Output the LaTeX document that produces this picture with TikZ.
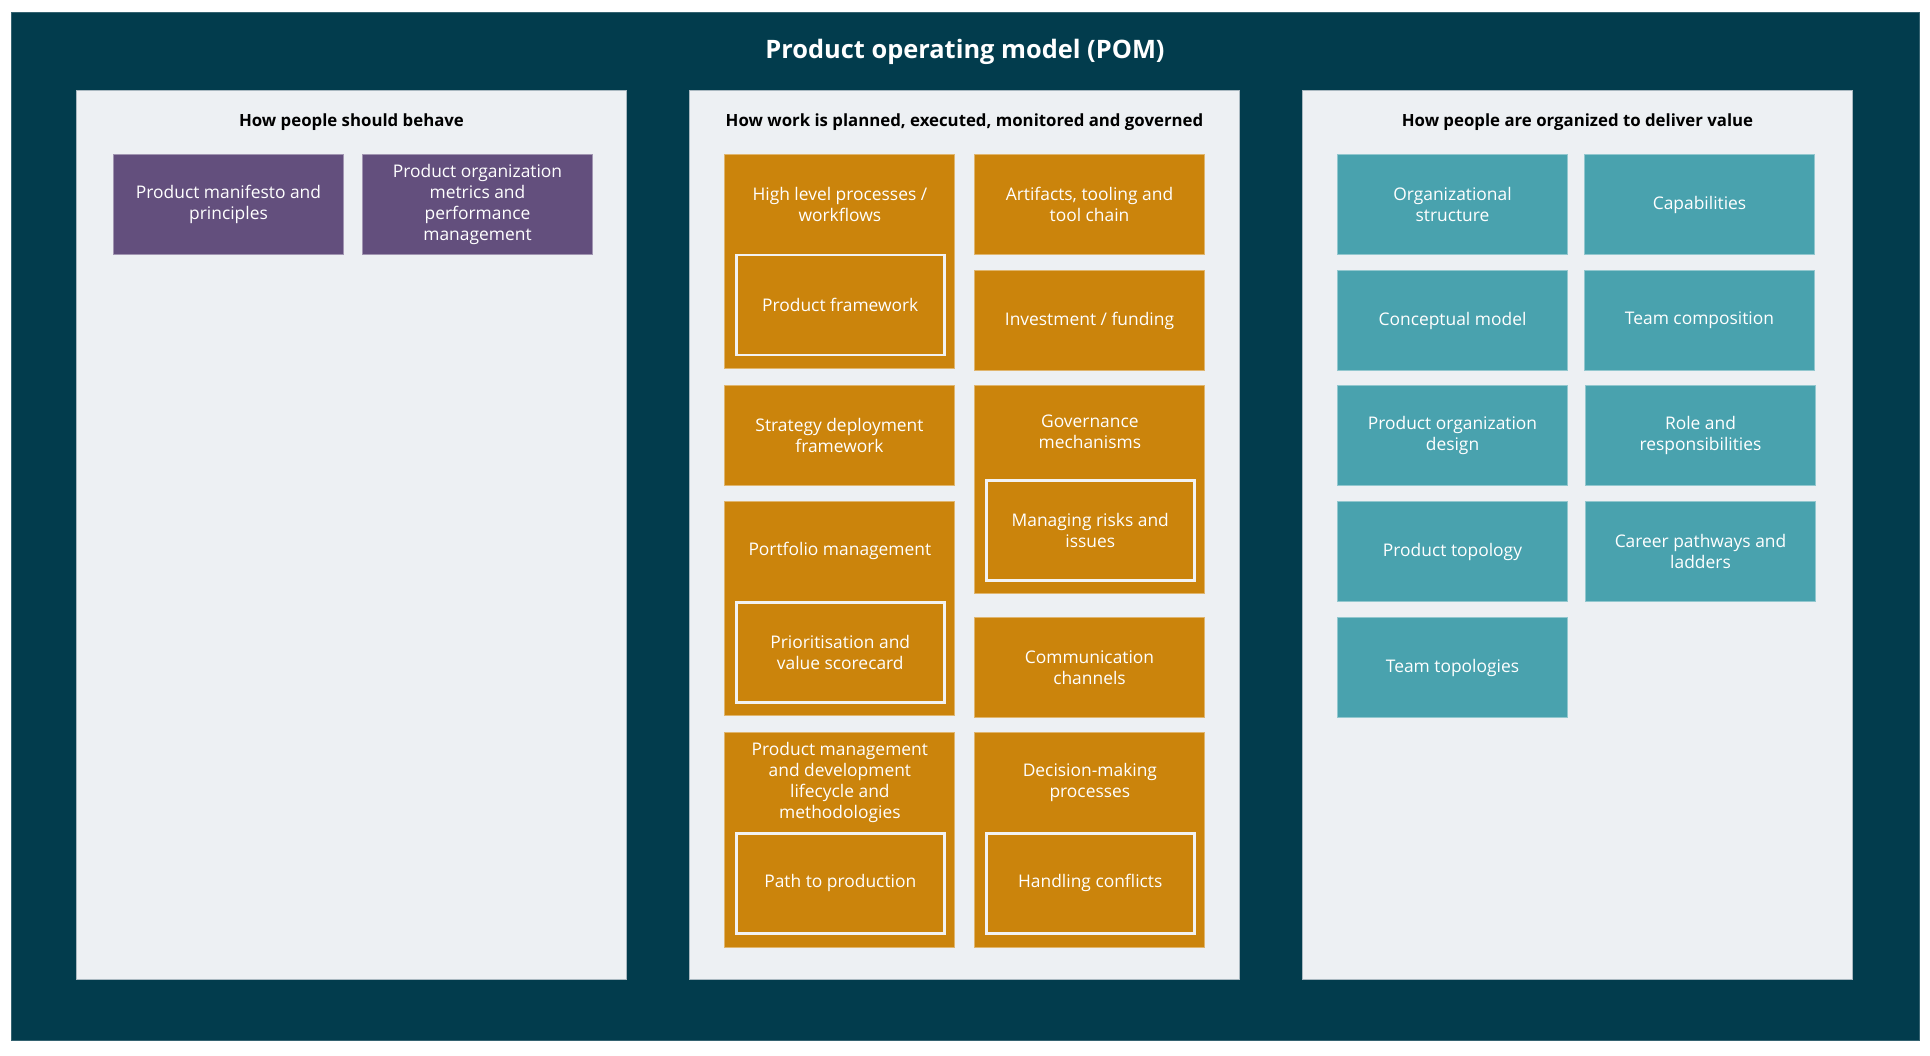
\documentclass[tikz,border=0pt]{standalone}
\usepackage{fontspec}
\setmainfont{Open Sans}
\usetikzlibrary{calc}
\definecolor{pomdark}{HTML}{023C4D}
\definecolor{pompanel}{HTML}{EDF0F3}
\definecolor{pomline}{HTML}{A9B8C0}
\definecolor{pompurple}{HTML}{634F7D}
\definecolor{pomorange}{HTML}{CB840C}
\definecolor{pomteal}{HTML}{49A2AE}
\definecolor{pominner}{HTML}{F2F2F2}
\tikzset{
  board/.style={fill=pomdark, draw=pomdark!80!white, line width=1pt, anchor=north west, minimum width=1908pt, minimum height=1028pt, inner sep=0pt},
  title/.style={text=white, font=\fontsize{25.4}{30}\selectfont\bfseries},
  panel/.style={fill=pompanel, draw=pomline, line width=1pt, anchor=north west, minimum width=550pt, minimum height=889pt, inner sep=0pt},
  phead/.style={text=black, font=\fontsize{16.8}{20}\selectfont\bfseries},
  box/.style={anchor=north west, minimum width=230pt, minimum height=100pt, inner sep=0pt, align=center, text=white, line width=1pt, font=\fontsize{17.4}{21}\selectfont},
  behave/.style={box, fill=pompurple, draw=pompurple!60!white},
  work/.style={box, fill=pomorange, draw=pomorange!60!white},
  org/.style={box, fill=pomteal, draw=pomteal!60!white},
  tall/.style={work, minimum height=#1},
  inner/.style={work, minimum width=208pt, draw=pominner, line width=2.5pt},
  wtext/.style={align=center, text=white, font=\fontsize{17.4}{21}\selectfont}
}
\begin{document}
\begin{tikzpicture}[x=1pt, y=-1pt]
  \fill[white] (0,0) rectangle (1930,1056);
  \useasboundingbox (0,0) rectangle (1930,1056);
  \node[board] (pom) at (11,12) {};
  \node[title] (pom-t) at (965,51.5) {Product operating model (POM)};

  \node[panel] (behave) at (76,90) {};
  \node[panel] (work) at (689,90) {};
  \node[panel] (org) at (1302,90) {};
  \node[phead] (behave-h) at ([yshift=-32pt]behave.north) {How people should behave};
  \node[phead] (work-h) at ([yshift=-32pt]work.north) {How work is planned, executed, monitored and governed};
  \node[phead] (org-h) at ([yshift=-32pt]org.north) {How people are organized to deliver value};

  \node[behave] (pmp) at (113,154) {Product manifesto and\\principles};
  \node[behave] (pom-m) at (362,154) {Product organization\\metrics and\\performance\\management};

  \node[tall=214pt] (hlp) at (724,154) {};
  \node[inner] (pfw) at (735,254) {Product framework};
  \node[wtext] (hlp-t) at ($(hlp.north)!0.5!(pfw.north)$) {High level processes /\\workflows};
  \node[work] (atc) at (974,154) {Artifacts, tooling and\\tool chain};
  \node[work] (inv) at (974,270) {Investment / funding};
  \node[work] (sdf) at (724,385) {Strategy deployment\\framework};
  \node[tall=208pt] (gov) at (974,385) {};
  \node[inner] (mri) at (985,479) {Managing risks and\\issues};
  \node[wtext] (gov-t) at ($(gov.north)!0.5!(mri.north)$) {Governance\\mechanisms};
  \node[tall=214pt] (pfm) at (724,501) {};
  \node[inner] (pvs) at (735,601) {Prioritisation and\\value scorecard};
  \node[wtext] (pfm-t) at ($(pfm.north)!0.5!(pvs.north)$) {Portfolio management};
  \node[work] (com) at (974,617) {Communication\\channels};
  \node[tall=215pt] (pmd) at (724,732) {};
  \node[inner] (ptp) at (735,832) {Path to production};
  \node[wtext] (pmd-t) at ($(pmd.north)!0.5!(ptp.north)$) {Product management\\and development\\lifecycle and\\methodologies};
  \node[tall=215pt] (dmp) at (974,732) {};
  \node[inner] (hcf) at (985,832) {Handling conflicts};
  \node[wtext] (dmp-t) at ($(dmp.north)!0.5!(hcf.north)$) {Decision-making\\processes};

  \node[org] (ost) at (1337,154) {Organizational\\structure};
  \node[org] (cap) at (1584,154) {Capabilities};
  \node[org] (cmo) at (1337,270) {Conceptual model};
  \node[org] (tco) at (1584,270) {Team composition};
  \node[org] (pod) at (1337,385) {Product organization\\design};
  \node[org] (rar) at (1585,385) {Role and\\responsibilities};
  \node[org] (pto) at (1337,501) {Product topology};
  \node[org] (cpl) at (1585,501) {Career pathways and\\ladders};
  \node[org] (tto) at (1337,617) {Team topologies};
\end{tikzpicture}
\end{document}
